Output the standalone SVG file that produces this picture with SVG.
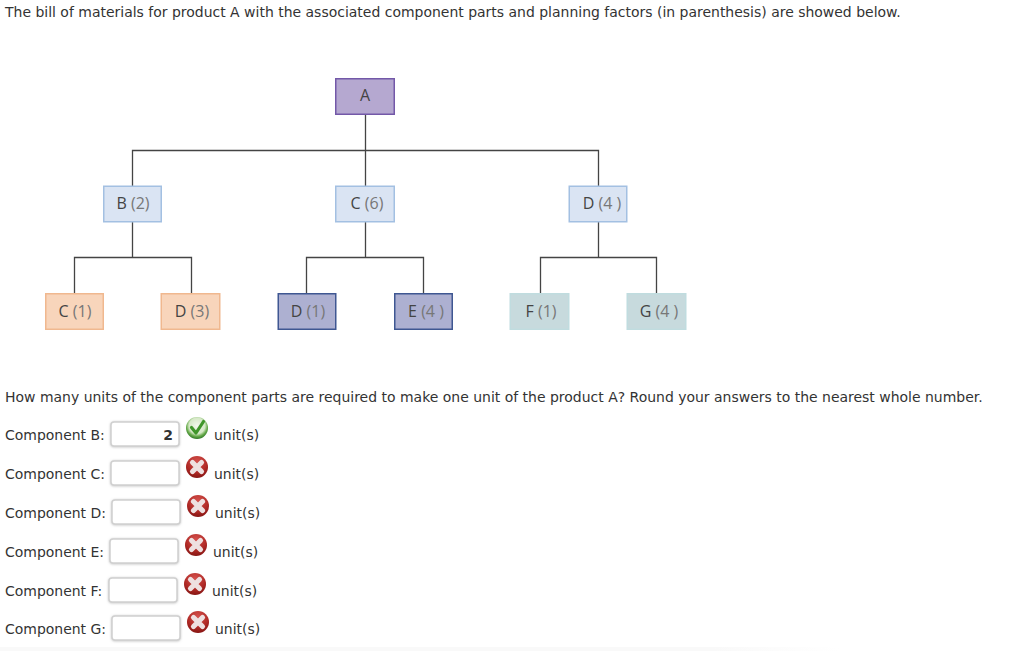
<svg xmlns="http://www.w3.org/2000/svg" width="1024" height="651" viewBox="0 0 1024 651">
<style>
.t{font-family:"DejaVu Sans",Verdana,sans-serif;font-size:13.97px;fill:#333}
.n{font-family:"Open Sans","Noto Sans",sans-serif;font-size:16px;fill:#444;text-anchor:middle}
.p{fill:#777}
.c{fill:none;stroke:#444;stroke-width:1.3}
.blue{fill:#dae4f3;stroke:#a3c0e2;stroke-width:1.5}
.pur{fill:#b5a8d0;stroke:#7358a8;stroke-width:1.5}
.org{fill:#f8d5bb;stroke:#f0b88f;stroke-width:1.5}
.ind{fill:#adb0d1;stroke:#3f5792;stroke-width:1.5}
.teal{fill:#c7dadd;stroke:#c0dcdf;stroke-width:1.5}
.box{fill:#fff;stroke:#d0d0d0;stroke-width:1.5;filter:url(#s)}
.x{fill:none;stroke:#eee0e0;stroke-width:5.2;stroke-linecap:round}
</style>
<defs>
<filter id="s" x="-10%" y="-20%" width="120%" height="140%"><feDropShadow dx="0" dy="0.5" stdDeviation="1" flood-color="#999" flood-opacity="0.6"/></filter>
<filter id="b" x="-10%" y="-10%" width="120%" height="120%"><feGaussianBlur stdDeviation="0.4"/></filter>
<radialGradient id="r" cx="50%" cy="25%" r="80%"><stop offset="0" stop-color="#d4504c"/><stop offset="0.6" stop-color="#b02a26"/><stop offset="1" stop-color="#7f1210"/></radialGradient>
<radialGradient id="g" cx="50%" cy="40%" r="58%"><stop offset="0" stop-color="#f2f8ec"/><stop offset="0.62" stop-color="#d5e8c6"/><stop offset="0.82" stop-color="#6aad4e"/><stop offset="1" stop-color="#37802a"/></radialGradient>
<linearGradient id="f" x1="0" x2="1" y1="0" y2="0"><stop offset="0" stop-color="#f9f9f9"/><stop offset="0.85" stop-color="#f9f9f9"/><stop offset="1" stop-color="#fff"/></linearGradient>
<g id="err" filter="url(#b)"><circle r="11" fill="url(#r)"/><path class="x" d="M-4.500-4.500 4.500 4.500M4.500-4.500-4.500 4.500"/></g>
</defs>
<rect width="1024" height="651" fill="#fff"/>
<rect y="647" width="840" height="4" fill="url(#f)"/>
<text class="t" x="5" y="17">The bill of materials for product A with the associated component parts and planning factors (in parenthesis) are showed below.</text>
<g id="connectors">
<path class="c" d="M365.500 114V186M132.500 186V150.500H598.500V186"/>
<path class="c" d="M132.500 222V257.500M74.500 293V257.500H191.500V293"/>
<path class="c" d="M365.500 222V257.500M306.500 293V257.500H423.500V293"/>
<path class="c" d="M598.500 222V257.500M540.500 293V257.500H656.500V293"/>
</g>
<g id="node-a"><rect class="pur" x="335.750" y="78.750" width="58.500" height="35.500"/><text class="n" x="365" y="101">A</text></g>
<g id="node-b"><rect class="blue" x="103.750" y="186.250" width="57.500" height="35.500"/><text class="n" x="133" y="208.500">B <tspan class="p">(2)</tspan></text></g>
<g id="node-c"><rect class="blue" x="335.750" y="186.250" width="58.500" height="35.500"/><text class="n" x="367" y="208.500">C <tspan class="p">(6)</tspan></text></g>
<g id="node-d"><rect class="blue" x="569.250" y="186.250" width="57.500" height="35.500"/><text class="n" x="602" y="208.500">D <tspan class="p">(4 )</tspan></text></g>
<g id="node-c1"><rect class="org" x="45.750" y="293.750" width="57.500" height="35.500"/><text class="n" x="75" y="316.500">C <tspan class="p">(1)</tspan></text></g>
<g id="node-d3"><rect class="org" x="161.250" y="293.750" width="58.500" height="35.500"/><text class="n" x="192" y="316.500">D <tspan class="p">(3)</tspan></text></g>
<g id="node-d1"><rect class="ind" x="278.250" y="293.750" width="57.500" height="35.500"/><text class="n" x="308" y="316.500">D <tspan class="p">(1)</tspan></text></g>
<g id="node-e"><rect class="ind" x="394.750" y="293.750" width="57.500" height="35.500"/><text class="n" x="426" y="316.500">E <tspan class="p">(4 )</tspan></text></g>
<g id="node-f"><rect class="teal" x="510.250" y="293.750" width="58.500" height="35.500"/><text class="n" x="541" y="316.500">F <tspan class="p">(1)</tspan></text></g>
<g id="node-g"><rect class="teal" x="627.250" y="293.750" width="58.500" height="35.500"/><text class="n" x="659" y="316.500">G <tspan class="p">(4 )</tspan></text></g>
<text class="t" x="5" y="402">How many units of the component parts are required to make one unit of the product A? Round your answers to the nearest whole number.</text>
<g id="row-b"><text class="t" x="5" y="440">Component B:</text><rect class="box" x="111" y="422" width="68" height="24" rx="3"/><text class="t" x="173" y="440" text-anchor="end" font-weight="bold">2</text><g filter="url(#b)"><circle cx="197" cy="428" r="11" fill="url(#g)"/><path d="M191.500 427.500 196 433 203.500 421.500" fill="none" stroke="#3f962c" stroke-width="3.200" stroke-linecap="round" stroke-linejoin="round"/></g><text class="t" x="214" y="440">unit(s)</text></g>
<g id="row-c"><text class="t" x="5" y="479">Component C:</text><rect class="box" x="111" y="461" width="68" height="24" rx="3"/><use href="#err" x="197" y="467"/><text class="t" x="214" y="479">unit(s)</text></g>
<g id="row-d"><text class="t" x="5" y="518">Component D:</text><rect class="box" x="112" y="500" width="68" height="24" rx="3"/><use href="#err" x="198" y="506"/><text class="t" x="215" y="518">unit(s)</text></g>
<g id="row-e"><text class="t" x="5" y="557">Component E:</text><rect class="box" x="110" y="539" width="68" height="24" rx="3"/><use href="#err" x="196" y="545"/><text class="t" x="213" y="557">unit(s)</text></g>
<g id="row-f"><text class="t" x="5" y="596">Component F:</text><rect class="box" x="109" y="578" width="68" height="24" rx="3"/><use href="#err" x="195" y="584"/><text class="t" x="212" y="596">unit(s)</text></g>
<g id="row-g"><text class="t" x="5" y="634">Component G:</text><rect class="box" x="112" y="616" width="68" height="24" rx="3"/><use href="#err" x="198" y="622"/><text class="t" x="215" y="634">unit(s)</text></g>
</svg>
